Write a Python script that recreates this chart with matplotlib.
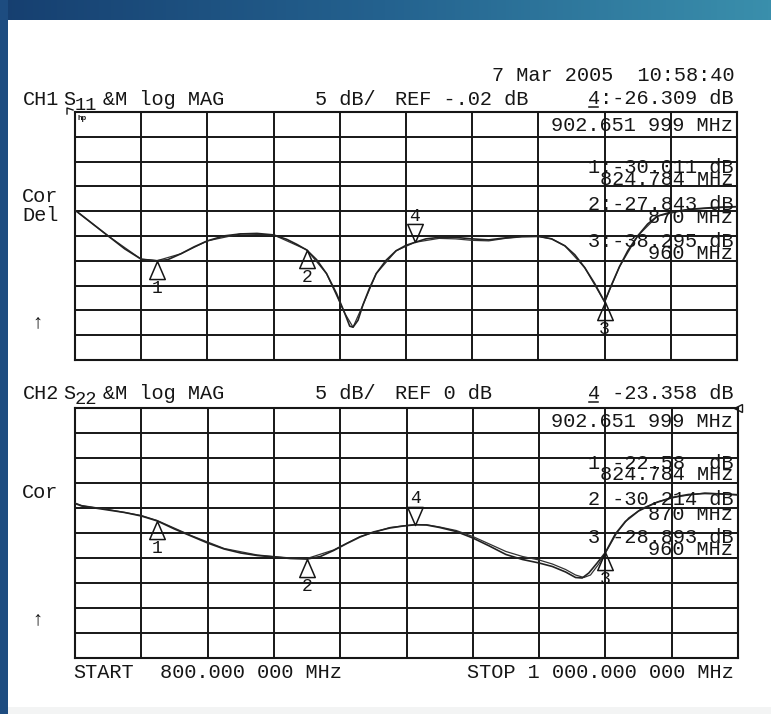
import numpy as np
import matplotlib
matplotlib.use("Agg")
import matplotlib.pyplot as plt
from matplotlib.path import Path
from matplotlib.colors import LinearSegmentedColormap
from matplotlib.lines import Line2D
from matplotlib.patches import Rectangle

# ---------------- data ----------------
start_mhz, stop_mhz = 800.0, 1000.0
db_per_div = 5.0
ref_ch1, ref_ch2 = -0.02, 0.0

# CH1: S11 trace and memory (MHz, dB)
s11_freq = [800, 805, 810, 815, 820, 824.784, 828, 832, 836, 840, 845, 850, 855, 860,
            864, 867, 870, 873, 876, 879, 881.5, 883, 884, 885.5, 887, 889, 891, 894,
            897, 900, 902.652, 906, 910, 915, 920, 925, 930, 935, 940, 944, 948, 951,
            954, 957, 960, 962, 964.5, 967, 970, 973, 976, 980, 985, 990, 995, 1000]
s11_db = [-19.8, -22.4, -25.0, -27.6, -29.7, -30.011, -29.8, -28.6, -27.2, -26.0, -25.0,
          -24.6, -24.5, -24.8, -25.7, -26.7, -27.843, -29.8, -32.6, -36.6, -40.6, -43.2,
          -43.4, -42.0, -38.9, -35.5, -32.6, -29.9, -28.0, -26.9, -26.309, -25.6, -25.3,
          -25.3, -25.6, -25.8, -25.4, -25.1, -25.1, -25.6, -27.0, -28.8, -31.4, -34.6,
          -38.295, -35.0, -31.2, -28.0, -25.0, -22.6, -21.0, -20.2, -19.7, -19.4, -19.2,
          -19.1]
s11_mem_freq = [800, 810, 820, 824.784, 832, 840, 850, 860, 870, 876, 881.5, 884, 887,
                891, 897, 902.652, 910, 915, 920, 925, 930, 935, 940, 944, 948, 954,
                960, 964.5, 970, 976, 985, 1000]
s11_mem_db = [-19.8, -25.0, -29.7, -30.0, -28.6, -26.0, -24.6, -24.8, -27.8, -32.6,
              -40.6, -43.4, -38.9, -32.6, -28.0, -26.3, -25.5, -25.6, -25.9, -26.0,
              -25.5, -25.2, -25.1, -25.6, -27.0, -31.4, -38.3, -31.2, -25.0, -21.0,
              -19.7, -19.1]

# CH2: S22 trace and memory (MHz, dB)
s22_freq = [800, 802, 806, 810, 815, 820, 824.784, 830, 835, 840, 845, 850, 855, 860,
            865, 870, 874, 878, 882, 886, 890, 895, 899, 902.652, 906, 910, 915, 920,
            925, 930, 935, 940, 944, 948, 951, 953, 955, 957.5, 960, 963, 966, 970, 975,
            980, 985, 990, 995, 1000]
s22_db = [-19.1, -19.6, -20.0, -20.4, -20.9, -21.6, -22.58, -24.2, -25.6, -27.0, -28.2,
          -29.0, -29.5, -29.8, -30.1, -30.214, -29.7, -28.5, -27.1, -25.8, -24.8, -24.0,
          -23.6, -23.358, -23.4, -23.9, -24.7, -26.0, -27.6, -29.3, -30.3, -31.0, -31.7,
          -32.8, -33.9, -34.0, -33.0, -31.0, -28.893, -25.2, -22.7, -20.6, -19.0, -17.9,
          -17.3, -17.1, -17.2, -17.4]
s22_mem_freq = [800, 802, 810, 820, 824.784, 835, 845, 855, 865, 870, 878, 886, 895,
                902.652, 906, 910, 915, 920, 925, 930, 935, 940, 944, 948, 951, 953.5,
                955.5, 958, 960.5, 963.5, 967, 971, 976, 982, 990, 1000]
s22_mem_db = [-19.0, -19.5, -20.3, -21.5, -22.5, -25.5, -28.1, -29.4, -30.0, -30.1,
              -28.4, -25.7, -23.9, -23.3, -23.35, -23.8, -24.5, -25.7, -27.2, -28.7,
              -29.7, -30.4, -31.2, -32.3, -33.4, -33.9, -33.4, -31.2, -28.4, -24.9,
              -22.0, -20.1, -18.7, -17.7, -17.0, -17.3]

# marker readouts
marker_ids = ["1", "2", "3", "4"]
marker_freq = [824.784, 870.0, 960.0, 902.652]
ch1_marker_db = [-30.011, -27.843, -38.295, -26.309]
ch2_marker_db = [-22.58, -30.214, -28.893, -23.358]

# ---------------- figure ----------------
W, H = 771, 714
fig = plt.figure(figsize=(W / 100, H / 100), dpi=100)
fig.patch.set_facecolor("white")

MONO = ["Liberation Mono", "DejaVu Sans Mono"]
INK = "#161616"
FS = 14.6


def fx(x):
    return x / W


def fy(y):
    return 1 - y / H


def put(x, y, s, size=FS, ha="left", **kw):
    return fig.text(fx(x), fy(y), s, fontsize=size, ha=ha, va="baseline",
                    family=MONO, color=INK, **kw)


# blue frame: gradient band on top, solid band down the left side
band = fig.add_axes([0, fy(20), 1, 20 / H])
band.axis("off")
cmap = LinearSegmentedColormap.from_list("band", ["#163f70", "#24628f", "#3a8fac"])
band.imshow(np.linspace(0, 1, 256)[None, :], aspect="auto", cmap=cmap,
            extent=[0, 1, 0, 1])
fig.patches.append(Rectangle((0, 0), fx(8), 1, transform=fig.transFigure,
                             facecolor="#1d4c80", edgecolor="none", zorder=5))
fig.patches.append(Rectangle((fx(8), 0), 1, 7 / H, transform=fig.transFigure,
                             facecolor="#f3f4f4", edgecolor="none", zorder=1))

# upward marker (below the trace) and downward marker (above the trace)
up_tri = Path([(0, 0), (-5.6, -13), (5.6, -13), (0, 0)],
              [Path.MOVETO, Path.LINETO, Path.LINETO, Path.CLOSEPOLY])
down_tri = Path([(0, 0), (-5.6, 13), (5.6, 13), (0, 0)],
                [Path.MOVETO, Path.LINETO, Path.LINETO, Path.CLOSEPOLY])


def make_panel(top, bottom, right, ref):
    ax = fig.add_axes([fx(75), fy(bottom), fx(right) - fx(75), (bottom - top) / H])
    ax.set_xlim(start_mhz, stop_mhz)
    ax.set_ylim(ref - 10 * db_per_div, ref)
    ax.set_xticks(np.linspace(start_mhz, stop_mhz, 11))
    ax.set_yticks(np.linspace(ref - 10 * db_per_div, ref, 11))
    ax.grid(True, color=INK, lw=1.4)
    ax.tick_params(length=0, labelbottom=False, labelleft=False)
    for sp in ax.spines.values():
        sp.set_color(INK)
        sp.set_linewidth(1.5)
    ax.set_facecolor("none")
    return ax


def draw_markers(ax, dbs):
    for mid, f, d in zip(marker_ids, marker_freq, dbs):
        if mid == "4":
            ax.plot([f], [d], marker=down_tri, ms=26, mfc="none", mec=INK, mew=1.1,
                    clip_on=False, zorder=4)
            ax.annotate(mid, (f, d), xytext=(0, 12.5), textcoords="offset points",
                        ha="center", va="bottom", fontsize=13, family=MONO, color=INK)
        else:
            ax.plot([f], [d], marker=up_tri, ms=26, mfc="none", mec=INK, mew=1.1,
                    clip_on=False, zorder=4)
            ax.annotate(mid, (f, d), xytext=(0, -13.5), textcoords="offset points",
                        ha="center", va="top", fontsize=13, family=MONO, color=INK)


def underline_first(txt, y):
    """Underline the first character of a right-aligned readout."""
    fig.canvas.draw()
    bb = txt.get_window_extent()
    cw = bb.width / len(txt.get_text())
    x0 = bb.x0 + 0.1 * cw
    x1 = bb.x0 + 0.9 * cw
    fig.add_artist(Line2D([x0 / W, x1 / W], [fy(y), fy(y)], color=INK, lw=1.1))


# ---- CH1 ----
ax1 = make_panel(112, 360, 737, ref_ch1)
ax1.plot(s11_mem_freq, s11_mem_db, color="#333333", lw=0.9, zorder=3)
ax1.plot(s11_freq, s11_db, color="#222222", lw=1.2, zorder=3)
draw_markers(ax1, ch1_marker_db)

put(735, 81, "7 Mar 2005  10:58:40", ha="right")
put(23, 105, "CH1")
put(63, 105, "S")
put(75, 110, "11", size=13.5)
put(103, 105, "&M log MAG")
put(315, 105, "5 dB/")
put(395, 105, "REF -.02 dB")
t4a = put(733, 104, "4:-26.309 dB", ha="right")
underline_first(t4a, 107)
put(78, 120, "hp", size=5.5, weight="bold")
put(22, 202, "Cor")
put(22, 221, "Del")
put(31, 327, "↑")
fig.add_artist(Line2D([fx(67), fx(67), fx(73)], [fy(114), fy(108), fy(110)],
                      color=INK, lw=1.0))

put(733, 131, "902.651 999 MHz", ha="right")
put(733, 173, "1:-30.011 dB", ha="right")
put(733, 185, "824.784 MHz", ha="right")
put(733, 210, "2:-27.843 dB", ha="right")
put(733, 223, "870 MHz", ha="right")
put(733, 247, "3:-38.295 dB", ha="right")
put(733, 259, "960 MHz", ha="right")

# ---- CH2 ----
ax2 = make_panel(408, 658, 738, ref_ch2)
ax2.plot(s22_mem_freq, s22_mem_db, color="#333333", lw=0.9, zorder=3)
ax2.plot(s22_freq, s22_db, color="#222222", lw=1.2, zorder=3)
draw_markers(ax2, ch2_marker_db)
ax2.plot([1.0], [1.0], transform=ax2.transAxes, marker="<", ms=6, mfc="none",
         mec=INK, mew=1.0, clip_on=False)

put(23, 399, "CH2")
put(63, 399, "S")
put(75, 404, "22", size=13.5)
put(103, 399, "&M log MAG")
put(315, 399, "5 dB/")
put(395, 399, "REF 0 dB")
t4b = put(733, 399, "4 -23.358 dB", ha="right")
underline_first(t4b, 402)
put(22, 498, "Cor")
put(31, 624, "↑")

put(733, 427, "902.651 999 MHz", ha="right")
put(733, 469, "1 -22.58  dB", ha="right")
put(733, 480, "824.784 MHz", ha="right")
put(733, 505, "2 -30.214 dB", ha="right")
put(733, 520, "870 MHz", ha="right")
put(733, 543, "3 -28.893 dB", ha="right")
put(733, 555, "960 MHz", ha="right")

put(73, 678, "START")
put(160, 678, "800.000 000 MHz")
put(734, 678, "STOP 1 000.000 000 MHz", ha="right")

fig.savefig("out.png", dpi=100, facecolor="white")
